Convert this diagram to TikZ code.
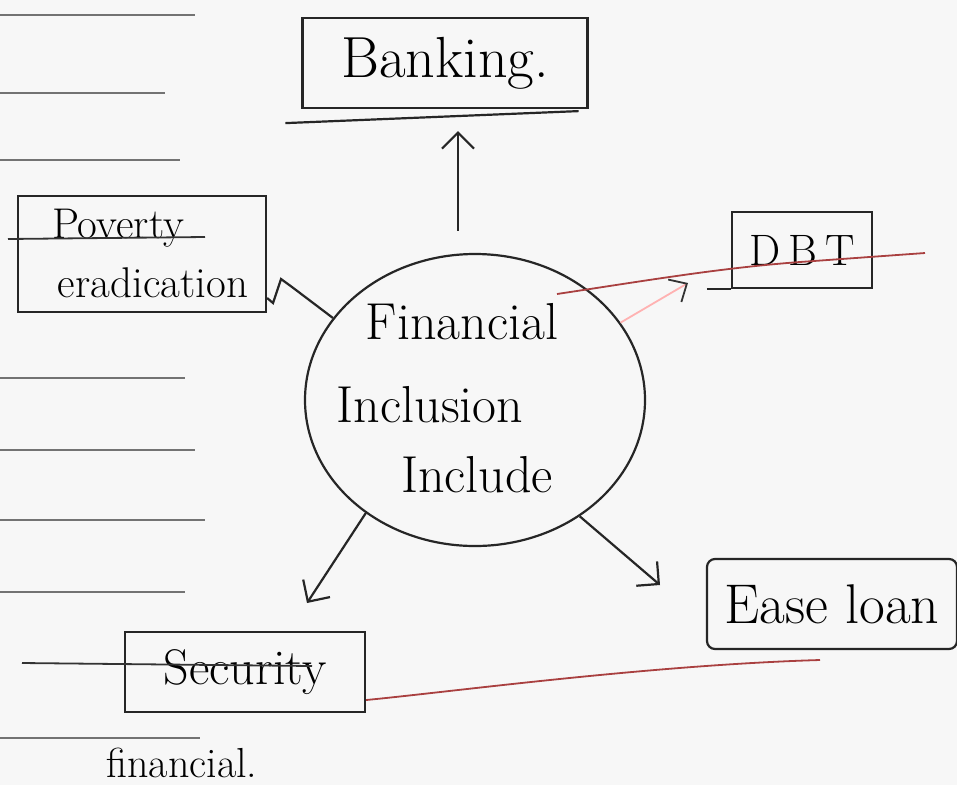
\documentclass[tikz,border=0pt]{standalone}
\usetikzlibrary{shapes.geometric,arrows.meta,calc}
\begin{document}
\begin{tikzpicture}[x=1pt,y=-1pt,
  ink/.style={line width=2.2pt, draw=black!85},
  box/.style={ink, rectangle, inner sep=0pt},
  arr/.style={ink, -{Straight Barb[length=16pt,width=32pt]}},
  redink/.style={draw=red!55!black!75, line width=1.8pt},
  pinkink/.style={draw=red!30!white, line width=1.8pt, -{Straight Barb[length=14pt,width=26pt,color=black!80]}},
  rule/.style={draw=black!55, line width=1.6pt},
  strike/.style={draw=black!80, line width=1.8pt},
  big/.style={font=\fontsize{58}{66}\selectfont},
  mid/.style={font=\fontsize{52}{60}\selectfont},
  small/.style={font=\fontsize{43}{50}\selectfont}]
\useasboundingbox (0,0) rectangle (957,785);
\fill[black!3] (0,0) rectangle (957,785);

% notebook ruling on the left
\foreach \y/\l in {15/195, 93/165, 160/180, 378/185, 450/195, 520/205, 592/185, 738/200}
  \draw[rule] (0,\y) -- (\l,\y);

% nodes
\node[box, big, minimum width=285pt, minimum height=90pt] (banking) at (445,63) {Banking.};
\node[ink, ellipse, minimum width=340pt, minimum height=292pt, inner sep=0pt] (fi) at (475,400) {};
\node[mid] (t1) at (462,322) {Financial};
\node[mid] (t2) at (430,405) {Inclusion};
\node[mid] (t3) at (477,475) {Include};
\node[box, font=\fontsize{44}{50}\selectfont, minimum width=140pt, minimum height=76pt] (dbt) at (802,250) {D\hspace{8pt}B\hspace{8pt}T};
\node[box, minimum width=248pt, minimum height=116pt] (pov) at (142,254) {};
\node[small] (p1) at (118,228) {Poverty};
\node[small] (p2) at (153,283) {eradication};
\node[box, font=\fontsize{56}{62}\selectfont, rounded corners=8pt, minimum width=250pt, minimum height=90pt] (ease) at (832,604) {Ease loan};
\node[box, font=\fontsize{50}{58}\selectfont, minimum width=240pt, minimum height=80pt] (sec) at (245,672) {Security};
\node[font=\fontsize{42}{48}\selectfont] (fin) at (182,763) {financial.};

% strike lines through text
\draw[strike] (8,239) -- (205,237);
\draw[strike] (22,663) -- (312,666);

% extra pen strokes of boxes
\draw[ink] ([xshift=-16pt,yshift=-14pt]banking.south west) -- ([xshift=-10pt,yshift=-2pt]banking.south east);
\draw[ink] ([xshift=-24pt]dbt.south west) -- (dbt.south west);

% connectors
\coordinate (sw) at (307,603);
\coordinate (se) at (660,585);
\coordinate (dbtarr) at (688,283);
\draw[arr] ([xshift=-17pt,yshift=22pt]fi.north) -- ([xshift=13pt,yshift=-22pt]banking.south);
\draw[arr] (fi.226) -- (sw);
\draw[arr] (fi.312) -- (se);
\draw[pinkink] (fi.28) -- (dbtarr);
\draw[ink] (fi.150) -- (292,287) -- (281,279) -- (273,303) -- ([yshift=-44pt]pov.east);

% red pen strokes
\draw[redink] (557,294) .. controls (650,280) and (720,268) .. (800,262) -- (925,253);
\draw[redink] (sec.east |- 0,700) .. controls (450,692) and (650,665) .. (820,660);
\end{tikzpicture}
\end{document}
